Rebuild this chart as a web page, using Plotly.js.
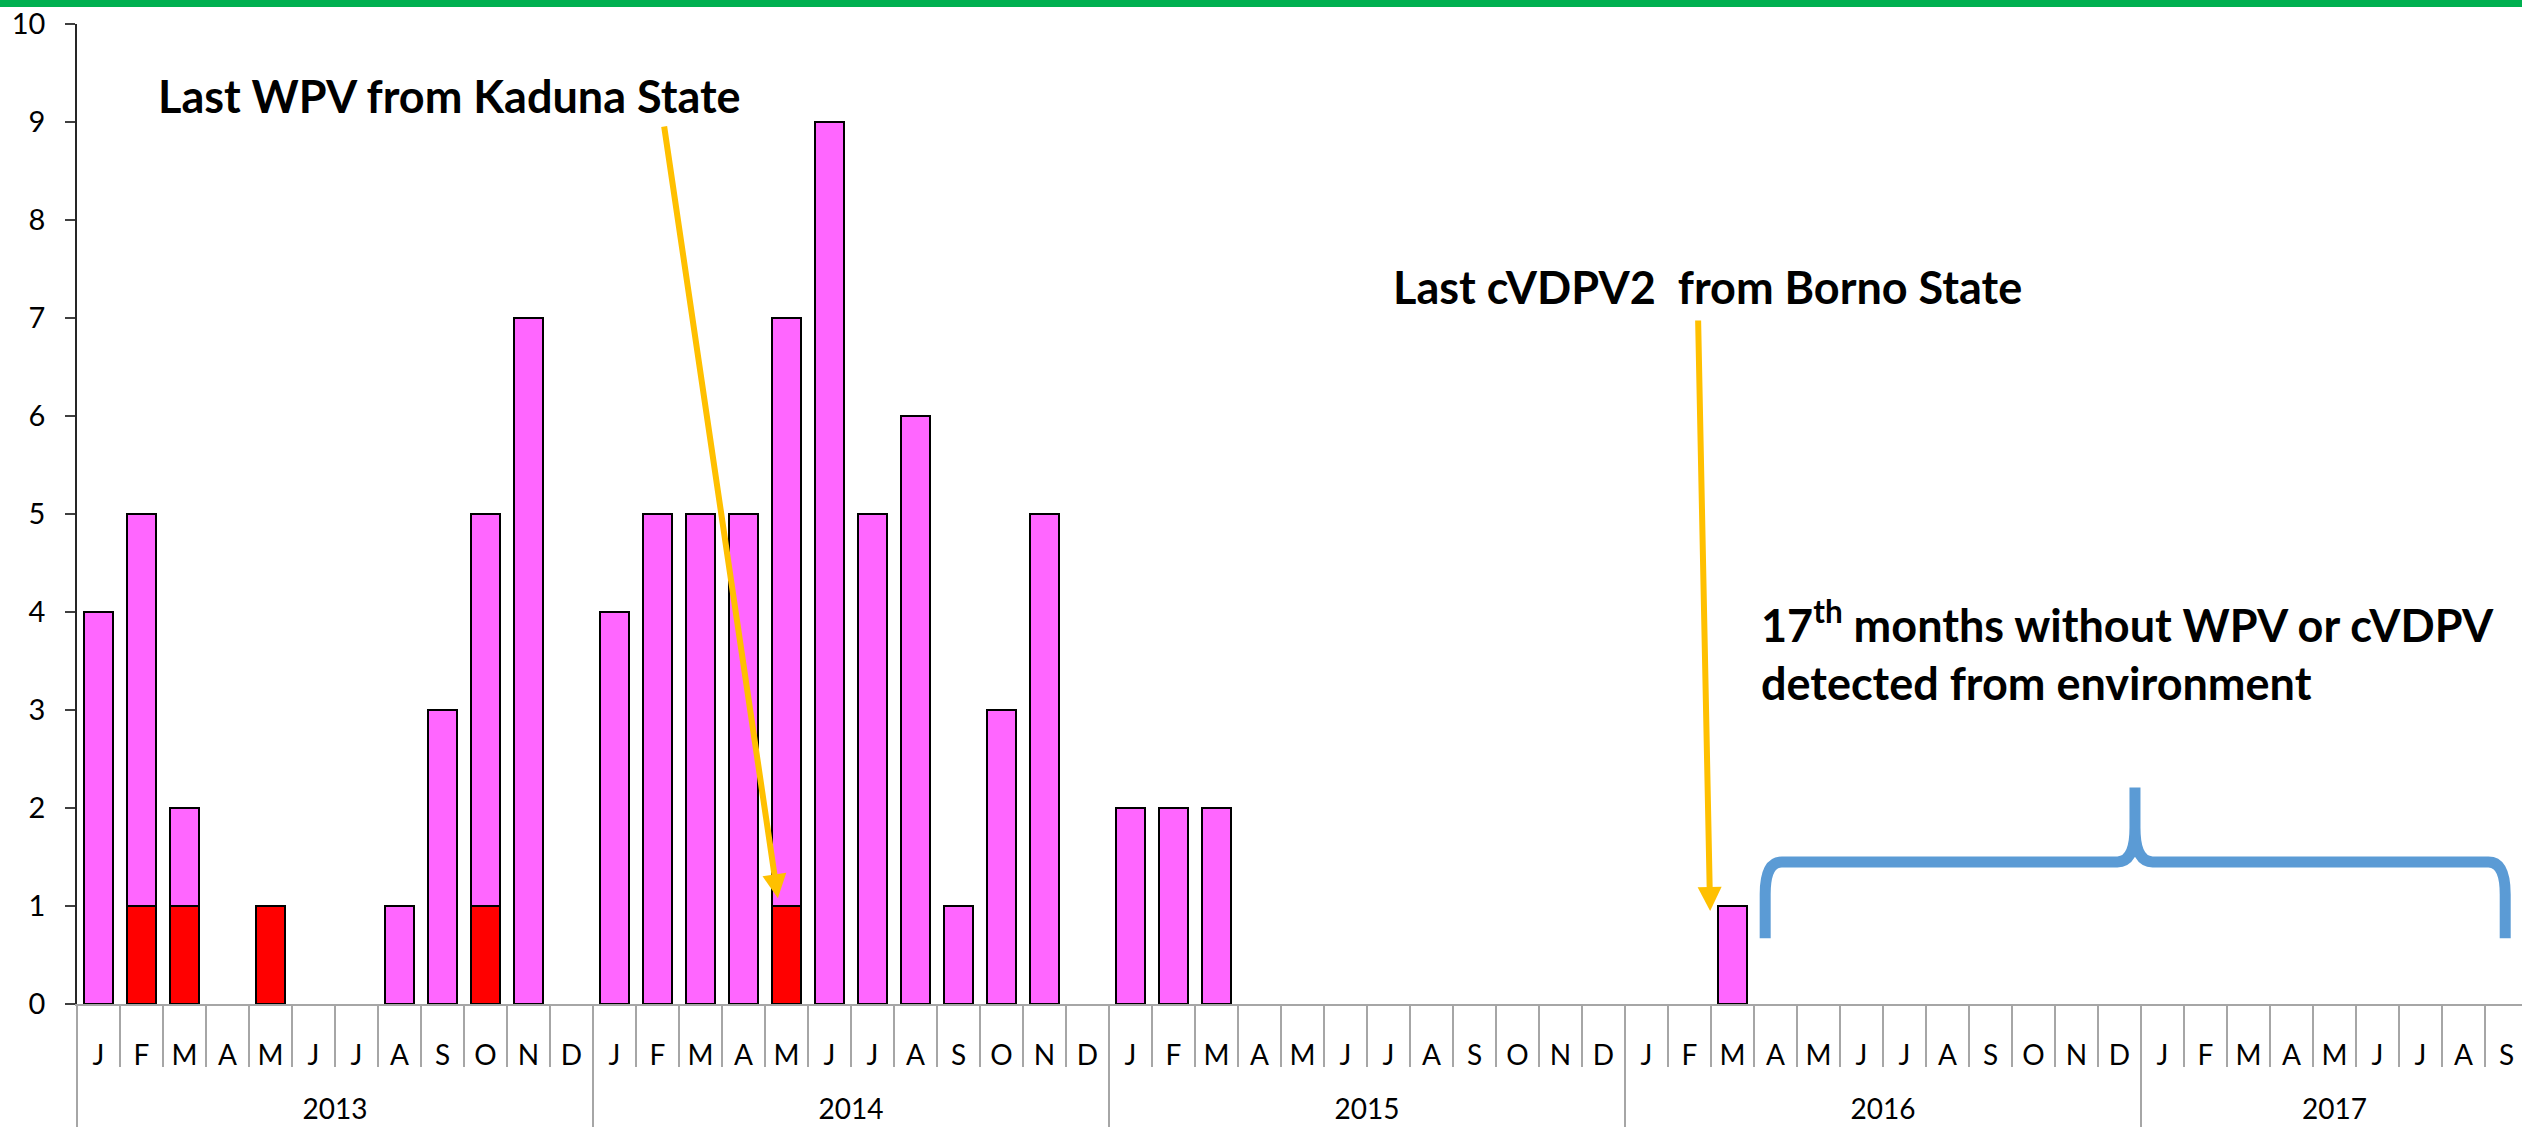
<!DOCTYPE html>
<html><head><meta charset="utf-8">
<script src="https://cdn.plot.ly/plotly-3.0.1.min.js"></script>
<style>html,body{margin:0;padding:0;overflow:hidden;background:#fff}#chart{width:2530px;height:1127px}</style>
</head><body><div id="chart"></div>
<script>
// ---- data ----
const years = ['2013', '2014', '2015', '2016', '2017'];
const monthsPerYear = [12, 12, 12, 12, 9];
const monthLetters = ['J','F','M','A','M','J','J','A','S','O','N','D'];
const wpv = [
  0,1,1,0,1,0,0,0,0,1,0,0,
  0,0,0,0,1,0,0,0,0,0,0,0,
  0,0,0,0,0,0,0,0,0,0,0,0,
  0,0,0,0,0,0,0,0,0,0,0,0,
  0,0,0,0,0,0,0,0,0
];
const cvdpv = [
  4,4,1,0,0,0,0,1,3,4,7,0,
  4,5,5,5,6,9,5,6,1,3,5,0,
  2,2,2,0,0,0,0,0,0,0,0,0,
  0,0,1,0,0,0,0,0,0,0,0,0,
  0,0,0,0,0,0,0,0,0
];
const yTicks = [0,1,2,3,4,5,6,7,8,9,10];

// ---- derived axis helpers ----
const monthLabels = [];
const yearCenters = [];
const yearBounds = [];
let start = 0;
monthsPerYear.forEach((n) => {
  for (let i = 0; i < n; i++) monthLabels.push(monthLetters[i]);
  yearCenters.push(start + (n - 1) / 2);
  yearBounds.push(start - 0.5);
  start += n;
});
yearBounds.push(start - 0.5);
const idx = monthLabels.map((_, i) => i);
const monthBounds = idx.map(i => i - 0.5).concat([idx.length - 0.5]);
const xr = [-0.5, idx.length - 0.5];
// empty months have no bar at all (no outline at the baseline)
const noZero = arr => arr.map(v => (v === 0 ? null : v));

const FONT = 'Lato, "Open Sans", sans-serif';
const GRAY = '#A6A6A6';

const traces = [
  { type: 'bar', name: 'WPV', x: idx, y: noZero(wpv),
    marker: { color: '#FF0000', line: { color: '#000', width: 1.6 } }, hoverinfo: 'y' },
  { type: 'bar', name: 'cVDPV2', x: idx, y: noZero(cvdpv),
    marker: { color: '#FF66FF', line: { color: '#000', width: 1.6 } }, hoverinfo: 'y' },
  { type: 'scatter', x: yearCenters, y: yearCenters.map(() => null), xaxis: 'x2', yaxis: 'y',
    showlegend: false, hoverinfo: 'skip', mode: 'markers' }
];

const annFont = { family: FONT, size: 45, color: '#000', weight: 'bold' };
const arrow = { text: '', showarrow: true, arrowhead: 2, arrowsize: 0.8, arrowwidth: 6,
  arrowcolor: '#FFC000', axref: 'x', ayref: 'y', standoff: 0 };

const layout = {
  width: 2530, height: 1127,
  margin: { l: 77, r: 2, t: 24, b: 123 },
  paper_bgcolor: '#fff', plot_bgcolor: '#fff',
  showlegend: false,
  barmode: 'stack', bargap: 0.33,
  font: { family: FONT, color: '#000' },
  xaxis: {
    type: 'linear', range: xr, fixedrange: true,
    tickmode: 'array', tickvals: idx, ticktext: monthLabels,
    ticks: '', showgrid: false, zeroline: false,
    showline: true, linecolor: GRAY, linewidth: 1.5,
    tickfont: { family: FONT, size: 28, color: '#000' },
    ticklabelstandoff: 26,
    minor: { tickmode: 'array', tickvals: monthBounds, ticks: 'outside', ticklen: 61,
      tickcolor: GRAY, tickwidth: 1.5, showgrid: false }
  },
  xaxis2: {
    type: 'linear', range: xr, overlaying: 'x', anchor: 'y', side: 'bottom', fixedrange: true,
    tickmode: 'array', tickvals: yearCenters, ticktext: years,
    ticks: '', showgrid: false, zeroline: false, showline: false,
    tickfont: { family: FONT, size: 28, color: '#000' },
    ticklabelstandoff: 86,
    minor: { tickmode: 'array', tickvals: yearBounds, ticks: 'outside', ticklen: 130,
      tickcolor: GRAY, tickwidth: 1.5, showgrid: false }
  },
  yaxis: {
    range: [0, 10], fixedrange: true, tickmode: 'array', tickvals: yTicks,
    ticks: 'outside', ticklen: 10, tickwidth: 1.5, tickcolor: '#404040',
    showline: true, linecolor: '#262626', linewidth: 1.8,
    showgrid: false, zeroline: false,
    tickfont: { family: FONT, size: 29, color: '#000' },
    ticklabelstandoff: 14
  },
  shapes: [
    { type: 'rect', xref: 'paper', yref: 'paper', x0: -0.1, x1: 1.1, y0: 1.0173, y1: 1.03,
      fillcolor: '#00B050', line: { width: 0 } },
    { type: 'path', xref: 'x', yref: 'y', line: { color: '#5B9BD5', width: 11 },
      path: 'M 38.76 0.67 L 38.76 1.12 Q 38.76 1.45 39.15 1.45 L 46.95 1.45 Q 47.36 1.45 47.36 1.8 L 47.36 2.21 ' +
            'M 47.36 1.8 Q 47.36 1.45 47.77 1.45 L 55.58 1.45 Q 55.97 1.45 55.97 1.12 L 55.97 0.67' }
  ],
  annotations: [
    { text: 'Last WPV from Kaduna State', x: 1.34, y: 9.27, xref: 'x', yref: 'y',
      xanchor: 'left', yanchor: 'middle', showarrow: false, font: annFont },
    { text: 'Last cVDPV2\u00a0\u00a0from Borno State', x: 30.06, y: 7.32, xref: 'x', yref: 'y',
      xanchor: 'left', yanchor: 'middle', showarrow: false, font: annFont },
    { text: '17<sup>th</sup> months without WPV or cVDPV<br>detected from environment',
      x: 38.62, y: 3.6, xref: 'x', yref: 'y', xanchor: 'left', yanchor: 'middle', align: 'left',
      showarrow: false, font: annFont },
    Object.assign({ x: 15.80, y: 1.08, ax: 13.15, ay: 8.97 }, arrow),
    Object.assign({ x: 37.48, y: 0.95, ax: 37.20, ay: 6.99 }, arrow)
  ]
};

Plotly.newPlot('chart', traces, layout, { displayModeBar: false, responsive: false });
</script>
</body></html>
